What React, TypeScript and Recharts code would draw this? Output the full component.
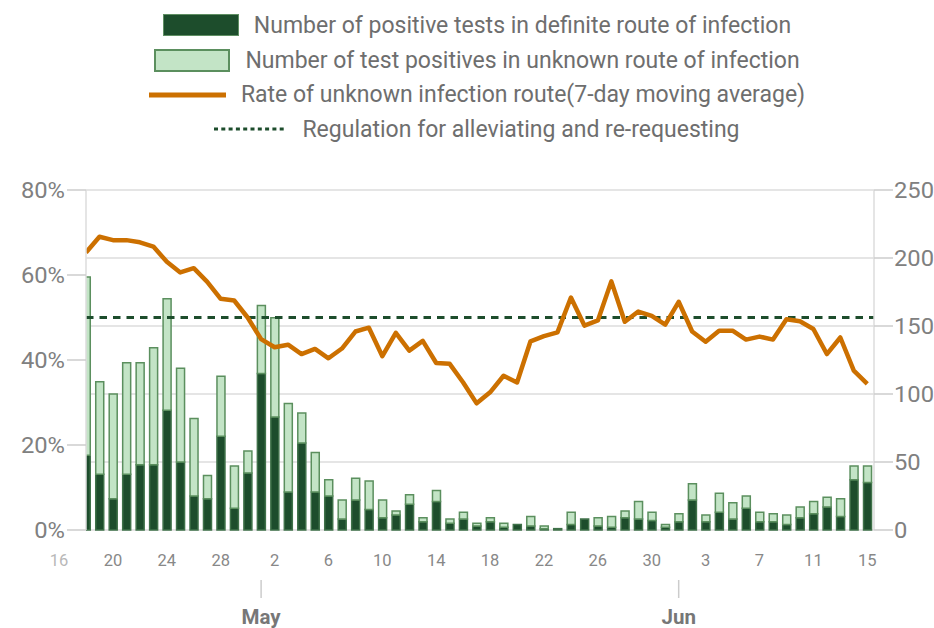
import React from 'react';
import {
  ComposedChart, Bar, Line, XAxis, YAxis, CartesianGrid, ReferenceLine, Legend,
} from 'recharts';

// first day shown in the series; every value below is one day apart
const START_DATE = '2020-04-18';

// positives with a known route of infection (right axis, people)
const DEFINITE = [
  55, 41, 23, 41, 48, 48, 88, 50, 25, 23, 69, 16, 42, 115, 83, 28, 64, 28, 25, 8,
  22, 15, 9, 11, 19, 6, 21, 5, 8, 3, 6, 2, 4, 3, 1, 1, 4, 8, 3, 2,
  9, 8, 7, 2, 6, 22, 6, 13, 8, 16, 6, 6, 4, 9, 12, 17, 10, 37, 35,
];

// positives with unknown route of infection (stacked on top)
const UNKNOWN = [
  131, 68, 77, 82, 75, 86, 82, 69, 57, 17, 44, 31, 16, 50, 73, 65, 22, 29, 12, 14,
  16, 21, 13, 3, 7, 3, 8, 3, 5, 2, 3, 3, 0, 7, 2, 0, 9, 0, 6, 8,
  5, 13, 6, 2, 6, 12, 5, 14, 12, 9, 7, 6, 7, 8, 9, 7, 13, 10, 12,
];

// 7-day moving average of the unknown-route share (left axis, %)
const UNKNOWN_RATE = [
  65.3, 69.0, 68.2, 68.2, 67.7, 66.7, 63.1, 60.6, 61.6, 58.4, 54.4, 54.0, 50.0, 44.9, 43.0,
  43.6, 41.4, 42.6, 40.4, 42.7, 46.7, 47.6, 40.9, 46.4, 42.2, 44.5, 39.3, 39.1, 34.7, 29.8,
  32.4, 36.3, 34.7, 44.4, 45.6, 46.5, 54.7, 48.1, 49.3, 58.5, 49.0, 51.4, 50.4, 48.3, 53.7,
  46.7, 44.3, 46.9, 46.9, 44.8, 45.5, 44.8, 49.6, 49.1, 47.3, 41.4, 45.3, 37.5, 34.4,
];

const THRESHOLD = 50;

const DAY_TICK_DATES = [
  '2020-04-16', '2020-04-20', '2020-04-24', '2020-04-28', '2020-05-02', '2020-05-06',
  '2020-05-10', '2020-05-14', '2020-05-18', '2020-05-22', '2020-05-26', '2020-05-30',
  '2020-06-03', '2020-06-07', '2020-06-11', '2020-06-15',
];
const MONTH_TICK_DATES = ['2020-05-01', '2020-06-01'];
const MONTH_LABELS = ['May', 'Jun'];

const LEFT_TICKS = [0, 20, 40, 60, 80];
const RIGHT_TICKS = [0, 50, 100, 150, 200, 250];

const DARK = '#1d4d2c';
const DARK_EDGE = '#3f7149';
const LIGHT = '#c3e4c6';
const LIGHT_EDGE = '#5b8f5e';
const ORANGE = '#cc7000';

const DAY_MS = 24 * 3600 * 1000;
const dayIndex = (iso: string) =>
  Math.round((Date.parse(iso + 'T00:00:00Z') - Date.parse(START_DATE + 'T00:00:00Z')) / DAY_MS);
const dayLabel = (idx: number) =>
  String(new Date(Date.parse(START_DATE + 'T00:00:00Z') + idx * DAY_MS).getUTCDate());

const data = DEFINITE.map((v, i) => ({
  day: i,
  definite: v,
  unknown: UNKNOWN[i],
  rate: UNKNOWN_RATE[i],
}));

const dayTicks = DAY_TICK_DATES.map(dayIndex);
const monthTicks = MONTH_TICK_DATES.map(dayIndex);

const LEGEND_ROWS = [
  {
    label: 'Number of positive tests in definite route of infection',
    swatch: <div style={{ width: 76, height: 22, background: DARK, border: '1.5px solid #5f8f63', boxSizing: 'border-box' }} />,
  },
  {
    label: 'Number of test positives in unknown route of infection',
    swatch: <div style={{ width: 76, height: 23, background: LIGHT, border: `2px solid ${LIGHT_EDGE}`, boxSizing: 'border-box' }} />,
  },
  {
    label: 'Rate of unknown infection route(7-day moving average)',
    swatch: (
      <svg width={77} height={6}>
        <line x1={0} y1={3} x2={77} y2={3} stroke={ORANGE} strokeWidth={5} />
      </svg>
    ),
  },
  {
    label: 'Regulation for alleviating and re-requesting',
    swatch: (
      <svg width={73} height={4}>
        <line x1={0} y1={2} x2={73} y2={2} stroke={DARK} strokeWidth={3} strokeDasharray="4 3.3" />
      </svg>
    ),
  },
];

const renderLegend = () => (
  <div
    style={{
      height: 190, boxSizing: 'border-box', paddingTop: 8, paddingLeft: 20,
      fontFamily: 'Roboto', fontSize: 23, color: '#6e6e6e',
    }}
  >
    {LEGEND_ROWS.map((row) => (
      <div key={row.label} style={{ display: 'flex', justifyContent: 'center', alignItems: 'center', height: 34.7 }}>
        {row.swatch}
        <span style={{ marginLeft: 15, lineHeight: 1, whiteSpace: 'nowrap' }}>{row.label}</span>
      </div>
    ))}
  </div>
);

const DayTick = (props: any) => {
  const { x, y, payload } = props;
  const outside = payload.value < 0;
  return (
    <text x={x} y={y} dy="0.71em" textAnchor="middle" fontFamily="Roboto" fontSize={16.5} fill={outside ? '#b8b8b8' : '#888'}>
      {dayLabel(payload.value)}
    </text>
  );
};

// the value labels in the source are drawn a little wider than the font
const ValueTick = (props: any) => {
  const { x, y, payload, textAnchor, tickFormatter } = props;
  const label = tickFormatter ? tickFormatter(payload.value) : payload.value;
  return (
    <g transform={`translate(${x},${y})`}>
      <text transform="scale(1.08,1)" dy="0.36em" textAnchor={textAnchor} fontFamily="Roboto" fontSize={22} fill="#808080">
        {label}
      </text>
    </g>
  );
};

export default function App() {
  return (
    <div style={{ position: 'absolute', left: 0, top: 0, background: '#fff' }}>
      <ComposedChart width={934} height={628} data={data} margin={{ top: 0, right: 0, bottom: 0, left: 0 }}>
        <Legend verticalAlign="top" content={renderLegend} wrapperStyle={{ top: 0, left: 0, width: 934, height: 190 }} />
        <CartesianGrid yAxisId="right" vertical={false} stroke="#dddddd" strokeWidth={1.5} />
        <XAxis
          xAxisId="day"
          dataKey="day"
          type="number"
          domain={[0, 58.5]}
          allowDataOverflow
          ticks={dayTicks}
          interval={0}
          tick={<DayTick />}
          tickLine={false}
          axisLine={false}
          tickSize={23}
          tickMargin={1}
          height={50}
        />
        <XAxis
          xAxisId="month"
          dataKey="day"
          type="number"
          domain={[0, 58.5]}
          allowDataOverflow
          ticks={monthTicks}
          interval={0}
          tickFormatter={(v: number) => MONTH_LABELS[monthTicks.indexOf(v)]}
          tick={{ fontFamily: 'Roboto', fontSize: 20.5, fontWeight: 700, fill: '#777' }}
          tickLine={{ stroke: '#cccccc', strokeWidth: 1.5 }}
          axisLine={false}
          tickSize={18}
          tickMargin={11}
          height={48}
        />
        <YAxis
          yAxisId="left"
          domain={[0, 80]}
          ticks={LEFT_TICKS}
          interval={0}
          tickFormatter={(v: number) => `${v}%`}
          width={86}
          tickSize={19}
          tickMargin={2}
          tick={<ValueTick />}
          axisLine={{ stroke: '#dddddd', strokeWidth: 1.5 }}
          tickLine={{ stroke: '#cccccc', strokeWidth: 1.5 }}
        />
        <YAxis
          yAxisId="right"
          orientation="right"
          domain={[0, 250]}
          ticks={RIGHT_TICKS}
          interval={0}
          width={60}
          tickSize={19}
          tickMargin={1}
          tick={<ValueTick />}
          axisLine={{ stroke: '#dddddd', strokeWidth: 1.5 }}
          tickLine={{ stroke: '#cccccc', strokeWidth: 1.5 }}
        />
        <Bar xAxisId="day" yAxisId="right" dataKey="definite" stackId="tests" barSize={8}
          fill={DARK} stroke={DARK_EDGE} strokeWidth={1.5} isAnimationActive={false} />
        <Bar xAxisId="day" yAxisId="right" dataKey="unknown" stackId="tests" barSize={8}
          fill={LIGHT} stroke={LIGHT_EDGE} strokeWidth={1.5} isAnimationActive={false} />
        <ReferenceLine xAxisId="day" yAxisId="left" y={THRESHOLD} stroke={DARK} strokeWidth={3} strokeDasharray="7.5 6" />
        <Line xAxisId="day" yAxisId="left" dataKey="rate" type="linear" stroke={ORANGE} strokeWidth={4.5}
          dot={false} activeDot={false} strokeLinejoin="round" isAnimationActive={false} />
      </ComposedChart>
    </div>
  );
}
